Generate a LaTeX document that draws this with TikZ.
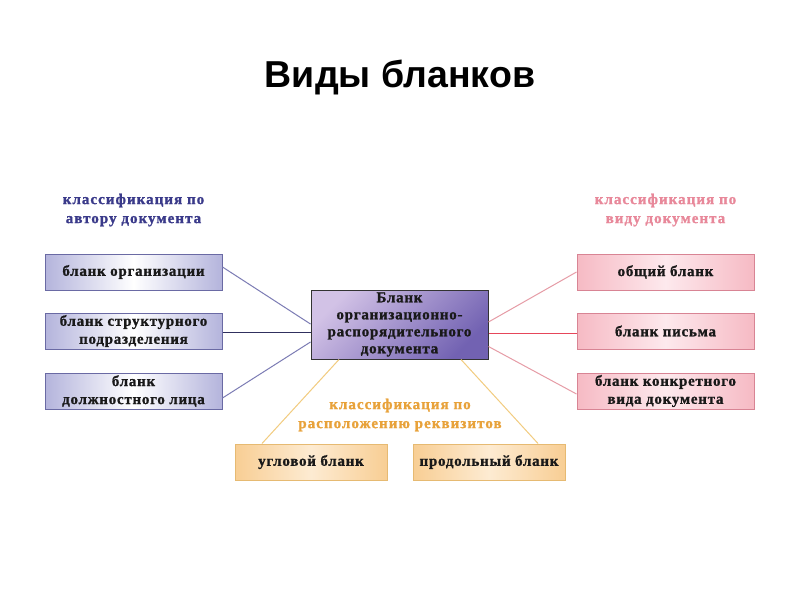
\documentclass[tikz,border=0pt]{standalone}
\usepackage{fontspec}
\setmainfont{Liberation Serif}
\newfontfamily\titlefont{Liberation Sans}
\newfontfamily\boxfont[LetterSpace=5, BoldFeatures={FakeBold=1.2}]{Liberation Serif}
\newfontfamily\headfont[LetterSpace=7, BoldFeatures={FakeBold=1.2}]{Liberation Serif}
\definecolor{blueEdge}{HTML}{B4B4DC}
\definecolor{blueBorder}{HTML}{6A6AA4}
\definecolor{blueHead}{HTML}{3A3A8A}
\definecolor{blueLine}{HTML}{7C7CB4}
\definecolor{blueLineDark}{HTML}{30305E}
\definecolor{pinkEdge}{HTML}{F6BAC4}
\definecolor{pinkMid}{HTML}{FDE9ED}
\definecolor{pinkBorder}{HTML}{D88494}
\definecolor{pinkHead}{HTML}{E8889A}
\definecolor{pinkLine}{HTML}{E69CA6}
\definecolor{redLine}{RGB}{230,70,90}
\definecolor{orEdge}{HTML}{F8CE94}
\definecolor{orMid}{HTML}{FDEBD2}
\definecolor{orBorder}{HTML}{E6BA72}
\definecolor{orHead}{HTML}{E8A23A}
\definecolor{orLine}{HTML}{F2CC80}
\definecolor{cenA}{HTML}{D2C2E6}
\definecolor{cenB}{HTML}{F8E6F0}
\definecolor{cenC}{HTML}{7262B2}
\tikzset{
  boxbase/.style={rectangle, minimum width=177pt, minimum height=36pt, inner sep=1pt,
    align=center, font=\boxfont\bfseries\fontsize{15}{18}\selectfont, text=black!90, line width=1pt},
  bluebox/.style={boxbase, draw=blueBorder, left color=blueEdge, right color=blueEdge, middle color=white},
  pinkbox/.style={boxbase, draw=pinkBorder, left color=pinkEdge, right color=pinkEdge, middle color=pinkMid},
  orbox/.style={boxbase, minimum width=152pt, draw=orBorder, left color=orEdge, right color=orEdge, middle color=orMid},
  centerbox/.style={boxbase, minimum height=69pt, font=\boxfont\bfseries\fontsize{15}{17}\selectfont,
    draw=black!80, left color=cenA, middle color=cenB, right color=cenC, shading angle=45},
  heading/.style={align=center, font=\headfont\bfseries\fontsize{15}{19}\selectfont},
  conn/.style={line width=1pt}
}
\begin{document}
\begin{tikzpicture}[x=1pt,y=-1pt]
\useasboundingbox (0,0) rectangle (800,600);
\fill[white] (0,0) rectangle (800,600);
\node[font=\titlefont\bfseries\fontsize{37.5}{42}\selectfont] (title) at (400,77) {Виды бланков};

\node[heading, text=blueHead] (hl) at (133.5,210) {классификация по\\автору документа};
\node[heading, text=pinkHead] (hr) at (665.5,210) {классификация по\\виду документа};
\node[heading, text=orHead] (hb) at (400,415) {классификация по\\расположению реквизитов};

\node[bluebox] (l1) at (133.5,272) {бланк организации};
\node[bluebox] (l2) at (133.5,331) {бланк структурного\\подразделения};
\node[bluebox] (l3) at (133.5,391) {бланк\\должностного лица};

\node[pinkbox] (r1) at (665.5,272) {общий бланк};
\node[pinkbox] (r2) at (665.5,331) {бланк письма};
\node[pinkbox] (r3) at (665.5,391) {бланк конкретного\\вида документа};

\node[orbox] (b1) at (311,462) {угловой бланк};
\node[orbox] (b2) at (489,462) {продольный бланк};

\node[centerbox] (c) at (399.5,324.5) {Бланк\\организационно-\\распорядительного\\документа};

\draw[conn, blueLine] ([yshift=5pt]l1.east) -- ([yshift=0.5pt]c.west);
\draw[conn, blueLineDark] ([yshift=-1pt]l2.east) -- ([yshift=-7.5pt]c.west);
\draw[conn, blueLine] ([yshift=-7pt]l3.east) -- ([yshift=-17.5pt]c.west);

\draw[conn, pinkLine] ([yshift=2.5pt]c.east) -- (r1.west);
\draw[conn, redLine] ([yshift=-9pt]c.east) -- ([yshift=-2.5pt]r2.west);
\draw[conn, pinkLine] ([yshift=-22pt]c.east) -- ([yshift=-3pt]r3.west);

\draw[conn, orLine] ([xshift=-60.5pt]c.south) -- ([xshift=-49pt]b1.north);
\draw[conn, orLine] ([xshift=61.5pt]c.south) -- ([xshift=49pt]b2.north);
\end{tikzpicture}
\end{document}
